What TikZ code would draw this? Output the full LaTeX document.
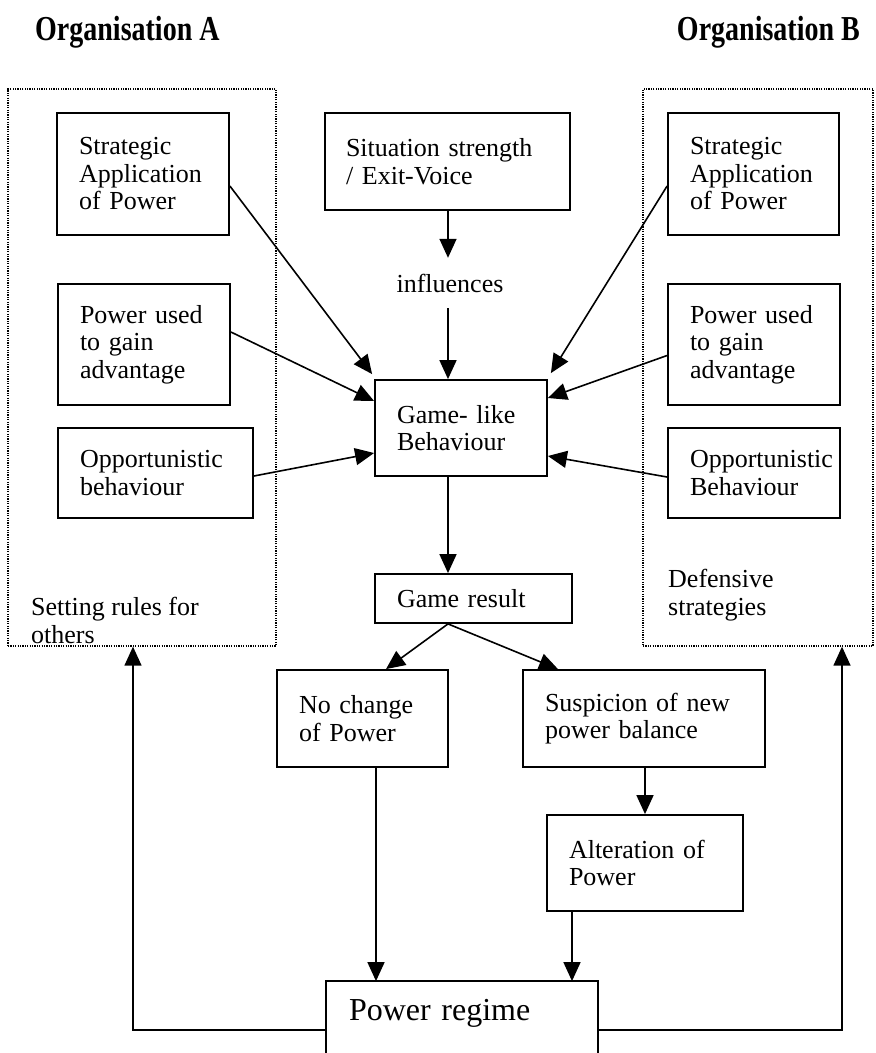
\documentclass[tikz,border=0pt]{standalone}
\usepackage{fontspec}
\setmainfont{Liberation Serif}
\newfontfamily\headfont{Liberation Serif}[FakeStretch=0.8]
\usetikzlibrary{arrows.meta,calc}

\tikzset{
  body/.style={font=\fontsize{26}{27.5}\selectfont},
  box/.style={body, draw, line width=1.8pt, rectangle, inner xsep=22pt, inner ysep=0pt, align=left},
  group/.style={draw, line width=1.3pt, dash pattern=on 1.2pt off 1.2pt, rectangle, inner sep=0pt},
  arr/.style={line width=1.6pt, -{Triangle[length=19pt,width=17pt]}},
  title/.style={font=\headfont\bfseries\fontsize{35}{40}\selectfont, inner sep=0pt},
  note/.style={body, align=left, inner sep=0pt},
}

\begin{document}
\lefthyphenmin=62
\begin{tikzpicture}[x=1pt,y=-1pt]
\clip (0,0) rectangle (876,1053);

% headings
\node[title, anchor=base west] (ta) at (35,40) {Organisation A};
\node[title, anchor=base east] (tb) at (860,40) {Organisation B};

% the two organisations
\node[group, minimum width=268pt, minimum height=557pt] (ga) at (142,367.5) {};
\node[group, minimum width=230pt, minimum height=557pt] (gb) at (758,367.5) {};
\node[note, anchor=base west] (seta) at (31,643) {Setting rules for\\others};
\node[note, anchor=base west] (defb) at (668,615) {Defensive\\strategies};

% organisation A
\node[box, minimum width=172pt, text width=128pt, minimum height=122pt] (sa) at (143,174) {Strategic\\Application\\of Power};
\node[box, minimum width=172pt, text width=128pt, minimum height=121pt] (pa) at (144,344.5) {Power used\\to gain\\advantage};
\node[box, minimum width=195pt, text width=151pt, minimum height=90pt] (oa) at (155.5,473) {Opportunistic\\behaviour};

% organisation B
\node[box, minimum width=171pt, text width=127pt, minimum height=122pt] (sb) at (753.5,174) {Strategic\\Application\\of Power};
\node[box, minimum width=172pt, text width=128pt, minimum height=121pt] (pb) at (754,344.5) {Power used\\to gain\\advantage};
\node[box, minimum width=172pt, text width=128pt, minimum height=90pt] (ob) at (754,473) {Opportunistic\\Behaviour};

% centre column
\coordinate (cx) at (448,0);
\node[box, inner xsep=21pt, minimum width=245pt, text width=203pt, minimum height=97pt] (sit) at (447.5,161.5) {Situation strength\\/ Exit-Voice};
\node[body, inner sep=0pt, minimum height=50pt] (infl) at (450,283) {influences};
\node[box, minimum width=172pt, text width=128pt, minimum height=96pt] (game) at (461,428) {Game- like\\Behaviour};
\node[box, minimum width=197pt, text width=153pt, minimum height=49pt] (res) at (473.5,598.5) {Game result};
\node[box, minimum width=171pt, text width=127pt, minimum height=97pt] (noch) at (362.5,718.5) {No change\\of Power};
\node[box, minimum width=242pt, text width=198pt, minimum height=97pt] (susp) at (644,718.5) {Suspicion of new\\power balance};
\node[box, minimum width=196pt, text width=152pt, minimum height=96pt] (alt) at (645,863) {Alteration of\\Power};
\node[box, draw=none, font=\fontsize{32}{36}\selectfont, minimum width=270pt, text width=226pt, minimum height=62pt] (reg) at (462,1013) {Power regime};
\draw[line width=1.8pt] ([yshift=-40pt]reg.south west) -- (reg.north west) -- (reg.north east) -- ([yshift=-40pt]reg.south east);

% influences on the game
\draw[arr] (sit.south -| cx) -- (infl.north -| cx);
\draw[arr] (infl.south -| cx) -- (game.north -| cx);
\draw[arr] ([yshift=-12pt]sa.east) -- ([shift={(-2pt,5pt)}]game.north west);
\draw[arr] ([yshift=12.5pt]pa.east) -- ([yshift=27pt]game.west);
\draw[arr] ([yshift=-3pt]oa.east) -- ([yshift=-25pt]game.west);
\draw[arr] ([yshift=-12pt]sb.west) -- ([shift={(3pt,6pt)}]game.north east);
\draw[arr] ([yshift=-11pt]pb.west) -- ([yshift=30pt]game.east);
\draw[arr] ([yshift=-4pt]ob.west) -- ([yshift=-28pt]game.east);

% outcome of the game
\draw[arr] (game.south -| cx) -- (res.north -| cx);
\draw[arr] (res.south -| cx) -- ([xshift=23.5pt]noch.north);
\draw[arr] (res.south -| cx) -- ([xshift=-86pt]susp.north);
\draw[arr] (alt.north |- susp.south) -- (alt.north);
\draw[arr] ([xshift=13.5pt]noch.south) -- ([xshift=13.5pt]noch.south |- reg.north);
\draw[arr] ([xshift=-73pt]alt.south) -- ([xshift=-73pt]alt.south |- reg.north);

% feedback to both organisations
\draw[arr, line width=1.4pt] ([yshift=-17pt]reg.west) -| ([xshift=-9pt]ga.south);
\draw[arr, line width=1.4pt] ([yshift=-17pt]reg.east) -| ([xshift=84pt]gb.south);
\end{tikzpicture}
\end{document}
